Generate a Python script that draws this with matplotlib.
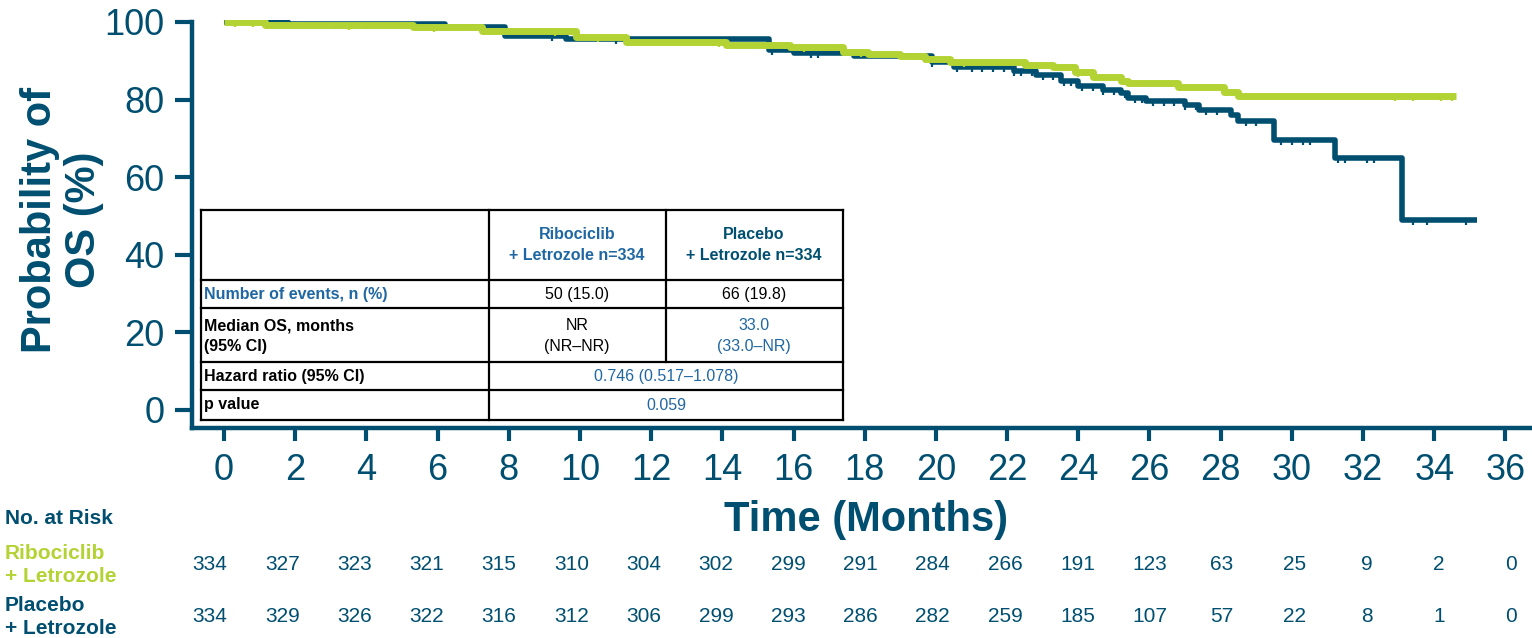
import numpy as np
import matplotlib.pyplot as plt
from matplotlib.lines import Line2D

plt.rcParams['font.family'] = ['Liberation Sans', 'DejaVu Sans']

BLUE = "#004F71"
GREEN = "#B3D334"
MIDBLUE = "#1F67A3"

# Kaplan-Meier steps (months, OS %)
ribo_t = [0, 1.15, 5.3, 7.25, 9.9, 11.3, 14.1, 15.9, 17.4, 18.1, 19.0, 19.7, 20.4,
          22.5, 23.3, 23.9, 24.4, 25.2, 25.4, 26.8, 28.1, 28.5]
ribo_s = [100, 99.2, 98.6, 97.7, 96.2, 94.9, 94.1, 93.5, 92.3, 91.7, 91.1, 90.5, 89.8,
          88.9, 88.3, 87.2, 85.9, 84.8, 84.2, 83.3, 82.0, 80.9]
ribo_end = 34.6
ribo_cens = [0.3, 0.8, 3.5, 5.9, 9.3, 10.5, 13.9, 16.3, 17.9, 20.8, 24.0, 32.9, 33.4, 34.2, 34.5]

plac_t = [0, 1.8, 6.2, 7.9, 9.6, 15.3, 16.0, 17.7, 19.9, 20.5, 22.2, 22.8, 23.5, 24.0,
          24.7, 25.2, 25.4, 25.9, 27.0, 27.4, 28.3, 28.5, 29.5, 31.2, 33.1]
plac_s = [100, 99.4, 98.8, 96.4, 95.6, 92.8, 92.0, 91.1, 89.6, 88.3, 87.4, 86.3, 84.8, 83.5,
          82.5, 81.6, 80.3, 79.5, 78.6, 77.3, 76.0, 74.5, 69.6, 64.9, 49.0]
plac_end = 35.2
plac_cens = [3.1, 3.3, 4.0, 9.2, 11.0, 12.6, 12.9, 15.4, 16.5, 16.7, 19.9, 20.6, 21.0, 21.3,
             21.6, 21.9, 22.2, 22.4, 22.7, 23.0, 23.3, 23.6, 23.8, 24.1, 24.4, 24.7, 25.0,
             25.3, 25.6, 25.8, 26.1, 26.4, 26.7, 27.0, 27.3, 27.6, 27.9, 28.7, 29.0, 29.7,
             30.0, 30.3, 30.5, 31.3, 31.5, 32.1, 32.3, 33.4, 33.8, 34.9]

risk_times = list(range(0, 37, 2))
risk_ribo = [334, 327, 323, 321, 315, 310, 304, 302, 299, 291, 284, 266, 191, 123, 63, 25, 9, 2, 0]
risk_plac = [334, 329, 326, 322, 316, 312, 306, 299, 293, 286, 282, 259, 185, 107, 57, 22, 8, 1, 0]

W, H = 1532, 638
fig = plt.figure(figsize=(W / 100, H / 100), dpi=100)


def fx(px):
    return px / W


def fy(py):
    return 1 - py / H


ax = fig.add_axes([fx(192), fy(428), fx(1530) - fx(192), fy(20) - fy(428)])


def surv_at(t, times, surv):
    i = np.searchsorted(times, t, side='right') - 1
    return np.asarray(surv)[i]


for times, surv, end, cens, col, lw in [
        (plac_t, plac_s, plac_end, plac_cens, BLUE, 4.0),
        (ribo_t, ribo_s, ribo_end, ribo_cens, GREEN, 5.0)]:
    xs = list(times) + [end]
    ys = list(surv) + [surv[-1]]
    ax.step(xs, ys, where='post', color=col, lw=lw, solid_capstyle='butt')
    ax.plot(cens, surv_at(cens, times, surv), ls='none', marker=3, ms=3.8, mew=1.6, color=col)

ax.set_xlim(-0.9, 36.69)
ax.set_ylim(-4.64, 100.5)
ax.set_xticks(range(0, 37, 2))
ax.set_yticks(range(0, 101, 20))
for s in ['top', 'right']:
    ax.spines[s].set_visible(False)
for s in ['left', 'bottom']:
    ax.spines[s].set_color(BLUE)
    ax.spines[s].set_linewidth(3.2)
ax.spines['left'].set_bounds(-4.64, 100)
ax.tick_params(axis='both', colors=BLUE, width=3, labelsize=26, labelcolor=BLUE)
ax.tick_params(axis='x', length=9, pad=9)
ax.tick_params(axis='y', length=12, pad=8)
ax.patch.set_alpha(0)

fig.text(fx(62), fy(220), "Probability of\nOS (%)", rotation=90, ha='center', va='center',
         fontsize=30, fontweight='bold', color=BLUE, linespacing=1.15)
fig.text(fx(866), fy(520), "Time (Months)", ha='center', va='center',
         fontsize=30, fontweight='bold', color=BLUE)

# table
tl, tr = 201, 843
cols = [tl, 489, 666, tr]
rows = [210, 280, 308, 362, 390, 420]
lkw = dict(color='black', lw=1.6, transform=fig.transFigure)
for r in rows:
    fig.add_artist(Line2D([fx(tl), fx(tr)], [fy(r), fy(r)], **lkw))
for c in [tl, tr]:
    fig.add_artist(Line2D([fx(c), fx(c)], [fy(rows[0]), fy(rows[-1])], **lkw))
for c in cols[1:3]:
    fig.add_artist(Line2D([fx(c), fx(c)], [fy(rows[0]), fy(rows[3])], **lkw))
fig.add_artist(Line2D([fx(489), fx(489)], [fy(rows[3]), fy(rows[-1])], **lkw))

c1, c2, cm = 577, 754, 666
tfs = 11.5


def cell(x, y, s, color='black', bold=False, ha='center'):
    fig.text(fx(x), fy(y), s, ha=ha, va='center', fontsize=tfs, color=color,
             fontweight='bold' if bold else 'normal', linespacing=1.45)


cell(c1, 245, "Ribociclib\n+ Letrozole n=334", MIDBLUE, True)
cell(c2, 245, "Placebo\n+ Letrozole n=334", BLUE, True)
cell(204, 295, "Number of events, n (%)", MIDBLUE, True, 'left')
cell(c1, 295, "50 (15.0)")
cell(c2, 295, "66 (19.8)")
cell(204, 336, "Median OS, months\n(95% CI)", 'black', True, 'left')
cell(c1, 336, "NR\n(NR–NR)")
cell(c2, 336, "33.0\n(33.0–NR)", MIDBLUE)
cell(204, 376, "Hazard ratio (95% CI)", 'black', True, 'left')
cell(cm, 376, "0.746 (0.517–1.078)", MIDBLUE)
cell(204, 405, "p value", 'black', True, 'left')
cell(cm, 405, "0.059", MIDBLUE)

# number at risk
fig.text(fx(5), fy(519), "No. at Risk", ha='left', va='center', fontsize=15,
         fontweight='bold', color=BLUE)
fig.text(fx(5), fy(565), "Ribociclib\n+ Letrozole", ha='left', va='center', fontsize=15,
         fontweight='bold', color=GREEN, linespacing=1.3)
fig.text(fx(5), fy(617), "Placebo\n+ Letrozole", ha='left', va='center', fontsize=15,
         fontweight='bold', color=BLUE, linespacing=1.3)
step = (1511 - 210) / 36
for t, a, b in zip(risk_times, risk_ribo, risk_plac):
    x = fx(210 + t * step)
    fig.text(x, fy(565), str(a), ha='center', va='center', fontsize=15, color=BLUE)
    fig.text(x, fy(617), str(b), ha='center', va='center', fontsize=15, color=BLUE)

fig.savefig("out.png", dpi=100)
